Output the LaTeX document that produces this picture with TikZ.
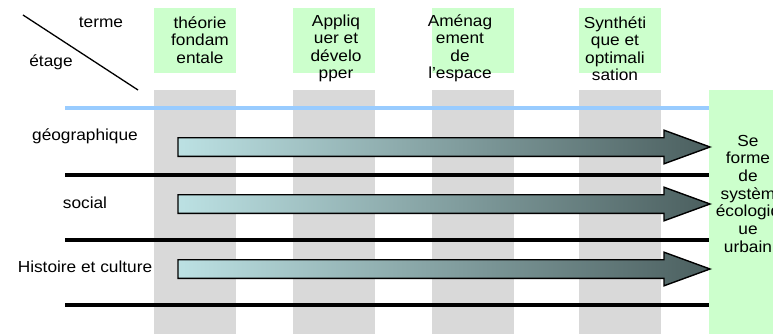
\documentclass[tikz,border=0pt]{standalone}
\usepackage{fontspec}
\setmainfont{Liberation Sans}[FakeStretch=1.08]
\definecolor{termgreen}{HTML}{CCFFCC}
\definecolor{colgray}{HTML}{D9D9D9}
\definecolor{topblue}{HTML}{99CCFF}
\definecolor{arrL}{HTML}{BCE1E3}
\definecolor{arrR}{HTML}{4B5F5F}
\begin{document}
\begin{tikzpicture}[x=1pt,y=-1pt,
  lbl/.style={font=\fontsize{16}{17.5}\selectfont, align=center, inner sep=0pt, text=black},
  greenbox/.style={fill=termgreen, draw=none},
  colbox/.style={fill=colgray, draw=none},
  rowline/.style={line width=4pt, black},
  blueline/.style={line width=3.5pt, topblue},
  arr/.style={left color=arrL, right color=arrR, draw=black, line width=1.4pt, line join=miter}]
\useasboundingbox (0,0) rectangle (773,334);
% gray columns
\foreach \a/\b in {154/236, 293/375, 432/514, 579/661}
  \fill[colbox] (\a,90) rectangle (\b,334);
% green term boxes
\foreach \a/\b in {154/236, 293/375, 432/514, 579/661}
  \fill[greenbox] (\a,8) rectangle (\b,73);
% right green box
\fill[greenbox] (709,90) rectangle (790,334);
% diagonal
\coordinate (d1) at (23,15);
\coordinate (d2) at (138,90);
\draw[line width=1.3pt] (d1) -- (d2);
% lines
\coordinate (b0l) at (65,108); \coordinate (b0r) at (709,108);
\draw[blueline] (b0l) -- (b0r);
\foreach \y/\n in {174.5/1, 240/2, 305/3}{
  \coordinate (l\n) at (65,\y); \coordinate (r\n) at (709,\y);
  \draw[rowline] (l\n) -- (r\n);
}
% arrows
\foreach \c in {147,204,269}
  \shade[arr] (178,\c-9.3) -- (664,\c-9.3) -- (664,\c-16.8) -- (710,\c) -- (664,\c+16.8) -- (664,\c+9.3) -- (178,\c+9.3) -- cycle;
% texts
\node[lbl] (terme) at (101,22.5) {terme};
\node[lbl] (etage) at (51,62.5) {étage};
\node[lbl] (t1) at (200,40) {théorie\\fondam\\entale};
\node[lbl] (t2) at (336,48.5) {Appliq\\uer et\\dévelo\\pper};
\node[lbl] (t3) at (460,48.5) {Aménag\\ement\\de\\l’espace};
\node[lbl] (t4) at (615,48.5) {Synthéti\\que et\\optimali\\sation};
\node[lbl] (geo) at (85,136) {géographique};
\node[lbl] (soc) at (85,202.7) {social};
\node[lbl] (his) at (85,266.7) {Histoire et culture};
\node[lbl, font=\fontsize{16}{17.7}\selectfont] (res) at (748,193.7) {Se\\forme\\de\\systèm\\écologiq\\ue\\urbain};
\end{tikzpicture}
\end{document}
